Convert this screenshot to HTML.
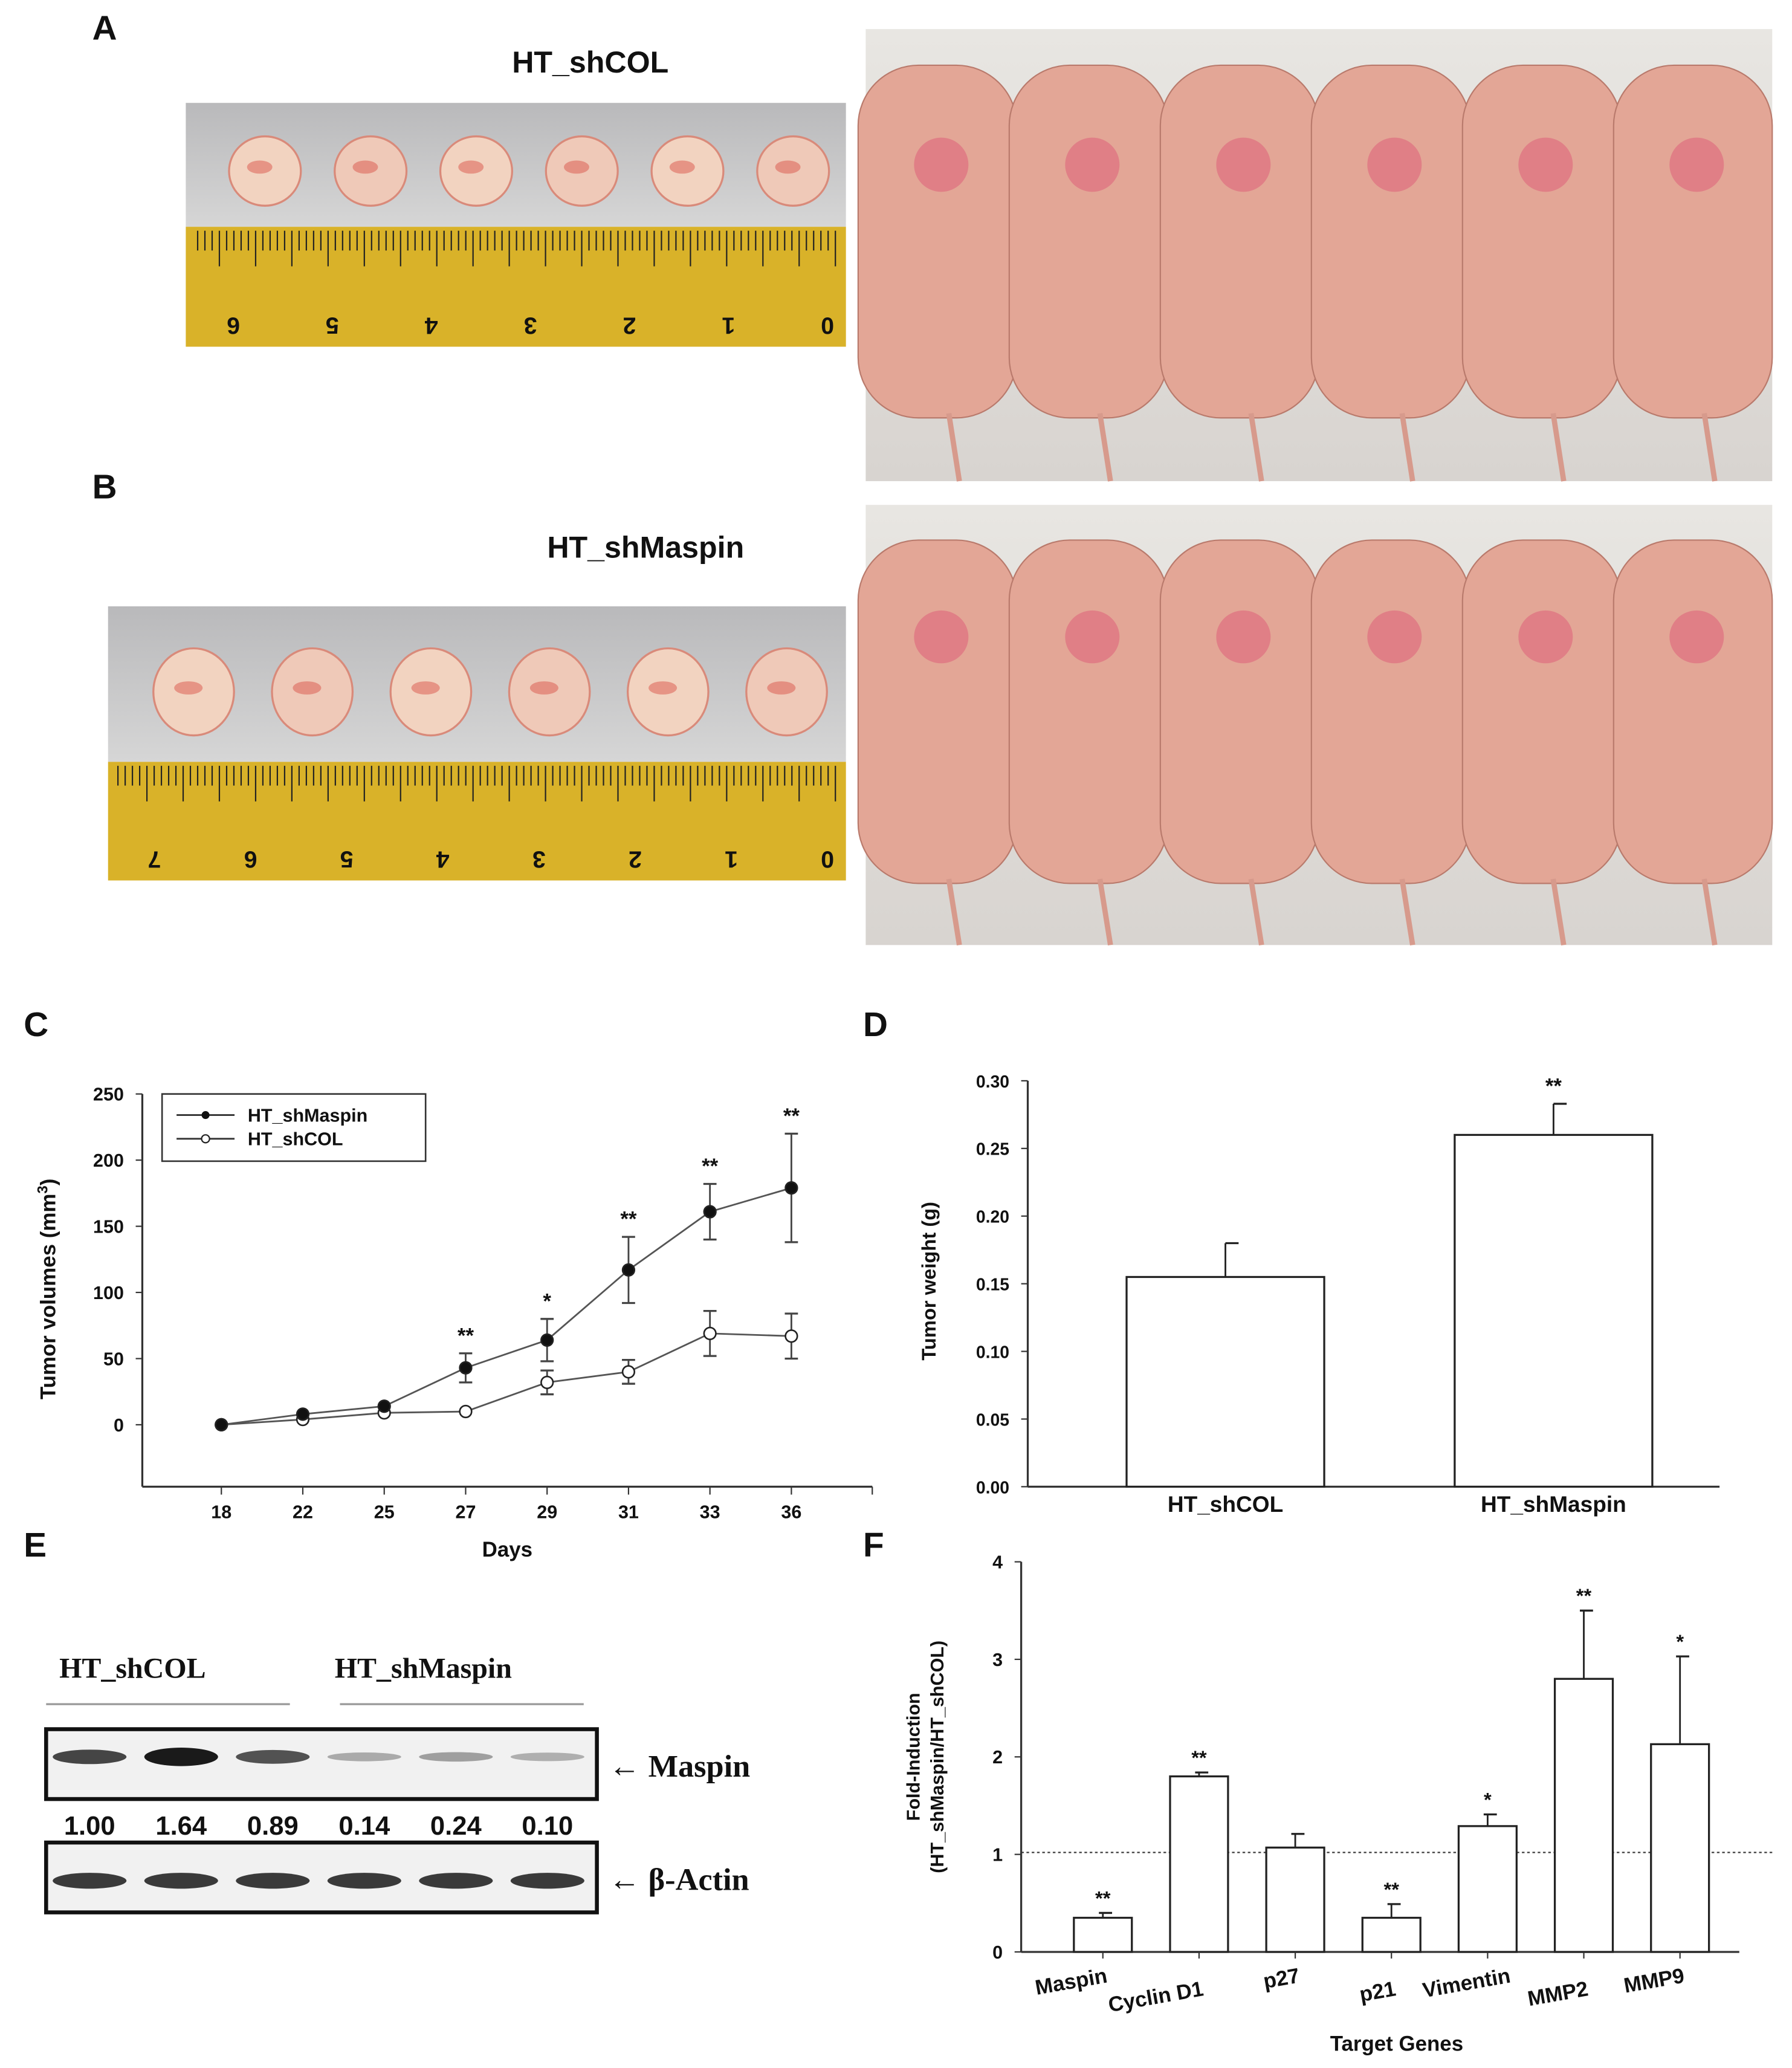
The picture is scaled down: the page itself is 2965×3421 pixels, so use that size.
<!DOCTYPE html>
<html><head><meta charset="utf-8"><style>
html,body{margin:0;padding:0;background:#fff}
svg{display:block}
text{font-family:"Liberation Sans",Arial,sans-serif;font-weight:bold;fill:#111}
.serif{font-family:"Liberation Serif",serif}
</style></head><body>
<svg id="fig" width="2965" height="3421" viewBox="0 0 1360 1569" xmlns="http://www.w3.org/2000/svg">
<defs>
<linearGradient id="gray" x1="0" y1="0" x2="0" y2="1"><stop offset="0" stop-color="#b9b9bb"/><stop offset="1" stop-color="#d6d6d6"/></linearGradient>
<linearGradient id="mice" x1="0" y1="0" x2="0" y2="1"><stop offset="0" stop-color="#e8e6e2"/><stop offset="1" stop-color="#d8d4d0"/></linearGradient>
</defs>
<text x="70" y="30" font-size="26">A</text>
<text x="70" y="378" font-size="26">B</text>
<text x="18" y="786" font-size="26">C</text>
<text x="655" y="786" font-size="26">D</text>
<text x="18" y="1181" font-size="26">E</text>
<text x="655" y="1181" font-size="26">F</text>
<text x="448" y="55" font-size="23" text-anchor="middle">HT_shCOL</text>
<text x="490" y="423" font-size="23" text-anchor="middle">HT_shMaspin</text>
<g id="photos"></g>
<g id="chartC"></g>
<g id="chartD"></g>
<g id="blotE"></g>
<g id="chartF"></g>
</svg>
<script>
const NS="http://www.w3.org/2000/svg";
function mk(parent,tag,attrs,txt){const e=document.createElementNS(NS,tag);for(const k in attrs)e.setAttribute(k,attrs[k]);if(txt!==undefined)e.textContent=txt;parent.appendChild(e);return e;}
// ---------- Photos ----------
const P=document.getElementById('photos');
function tumorPhoto(x,y,w,h,rulerY,n,nums){
  const g=mk(P,'g',{});
  
  
  mk(g,'rect',{x:x,y:y,width:w,height:rulerY-y,fill:'url(#gray)'});
  mk(g,'rect',{x:x,y:rulerY,width:w,height:y+h-rulerY,fill:'#d9b229'});
  const step=(w-20)/n;
  for(let i=0;i<n;i++){
    const cx=x+20+step*(i+0.5), cy=y+(rulerY-y)*0.55;
    mk(g,'ellipse',{cx:cx,cy:cy,rx:step*0.34,ry:(rulerY-y)*0.28,fill:i%2?'#efc9b8':'#f2d3c0',stroke:'#d98a7a','stroke-width':1.5});
    mk(g,'ellipse',{cx:cx-4,cy:cy-3,rx:step*0.12,ry:5,fill:'#d9564a',opacity:0.5});
  }
  const tl=w-12;
  for(let i=0;i<=tl/5.5;i++){const tx=x+w-8-i*5.5;mk(g,'line',{x1:tx,y1:rulerY+3,x2:tx,y2:rulerY+(i%5==0?30:18),stroke:'#222','stroke-width':1});}
  nums.forEach((s,i)=>{const tx=x+w-14-i*((w-20)/(nums.length-0.6));mk(g,'text',{x:tx,y:y+h-10,'font-size':18,'text-anchor':'middle',transform:`rotate(180 ${tx} ${y+h-16})`},s);});
}
tumorPhoto(141,78,501,185,172,6,['0','1','2','3','4','5','6']);
tumorPhoto(82,460,560,208,578,6,['0','1','2','3','4','5','6','7']);
function micePhoto(x,y,w,h){
  const g=mk(P,'g',{});
  
  
  mk(g,'rect',{x:x,y:y,width:w,height:h,fill:'url(#mice)'});
  const n=6,mw=w/n;
  for(let i=0;i<n;i++){
    const mx=x+mw*(i+0.5);
    mk(g,'rect',{x:mx-mw*0.55,y:y+h*0.08,width:mw*1.05,height:h*0.78,rx:mw*0.4,fill:'#e3a696',stroke:'#b97a6c','stroke-width':1});
    mk(g,'ellipse',{cx:mx,cy:y+h*0.3,rx:mw*0.18,ry:h*0.06,fill:'#e07f86'});
    mk(g,'line',{x1:mx+mw*0.05,y1:y+h*0.85,x2:mx+mw*0.12,y2:y+h,stroke:'#d79a8c','stroke-width':4});
  }
}
micePhoto(657,22,688,343);
micePhoto(657,383,688,334);

// ---------- Chart C ----------
const daysC=['18','22','25','27','29','31','33','36'];
const maspinVals=[0,8,14,43,64,117,161,179];
const maspinErr=[0,0,0,11,16,25,21,41];
const colVals=[0,4,9,10,32,40,69,67];
const colErr=[0,0,0,0,9,9,17,17];
const sigC=['','','','**','*','**','**','**'];
const yTicksC=[0,50,100,150,200,250];
(function(){
  const G=document.getElementById('chartC');
  const x0=108,xEnd=662,y0=1081,ppu=1.004,axisY=1128;
  const xs=i=>168+i*61.8, ys=v=>y0-v*ppu;
  mk(G,'line',{x1:x0,y1:ys(250),x2:x0,y2:axisY,stroke:'#333','stroke-width':1.5});
  mk(G,'line',{x1:x0,y1:axisY,x2:xEnd,y2:axisY,stroke:'#333','stroke-width':1.5});
  yTicksC.forEach(v=>{mk(G,'line',{x1:x0-5,y1:ys(v),x2:x0,y2:ys(v),stroke:'#333'});
    const t=mk(G,'text',{x:x0-14,y:ys(v)+5,'font-size':14,'text-anchor':'end'},v);
    });
  daysC.forEach((d,i)=>{mk(G,'line',{x1:xs(i),y1:axisY,x2:xs(i),y2:axisY+6,stroke:'#333'});
    const t=mk(G,'text',{x:xs(i),y:axisY+24,'font-size':14,'text-anchor':'middle'},d);
    });
  mk(G,'line',{x1:xEnd,y1:axisY,x2:xEnd,y2:axisY+6,stroke:'#333'});
  const xt=mk(G,'text',{x:385,y:1181,'font-size':16,'text-anchor':'middle'},'Days');
  
  const yt=mk(G,'text',{x:0,y:0,'font-size':16,'text-anchor':'middle',transform:'translate(42,978) rotate(-90)'},'Tumor volumes (mm');
  mk(yt,'tspan',{'font-size':11,dy:-6},'3');mk(yt,'tspan',{dy:6},')');
  
  function series(vals,errs,fill,name){
    const pts=vals.map((v,i)=>xs(i)+','+ys(v)).join(' ');
    const l=mk(G,'polyline',{points:pts,fill:'none',stroke:'#555','stroke-width':1.3});
    
    vals.forEach((v,i)=>{
      if(errs[i]>0){mk(G,'line',{x1:xs(i),y1:ys(v-errs[i]),x2:xs(i),y2:ys(v+errs[i]),stroke:'#444','stroke-width':1.3});
        [v-errs[i],v+errs[i]].forEach(e=>mk(G,'line',{x1:xs(i)-5,y1:ys(e),x2:xs(i)+5,y2:ys(e),stroke:'#444','stroke-width':1.5}));}
      const c=mk(G,'circle',{cx:xs(i),cy:ys(v),r:4.5,fill:fill,stroke:'#222','stroke-width':1.2});
      
    });
  }
  series(colVals,colErr,'#fff','shcol');
  series(maspinVals,maspinErr,'#111','shmaspin');
  sigC.forEach((s,i)=>{if(s){const t=mk(G,'text',{x:xs(i),y:ys(maspinVals[i]+maspinErr[i])-8,'font-size':16,'text-anchor':'middle'},s);
    }});
  const lg=mk(G,'g',{});
  mk(lg,'rect',{x:123,y:830,width:200,height:51,fill:'#fff',stroke:'#333','stroke-width':1.2});
  mk(lg,'line',{x1:134,y1:846,x2:178,y2:846,stroke:'#333','stroke-width':1.3});
  mk(lg,'circle',{cx:156,cy:846,r:3,fill:'#111'});
  mk(lg,'text',{x:188,y:851,'font-size':14,'font-weight':'normal'},'HT_shMaspin');
  mk(lg,'line',{x1:134,y1:864,x2:178,y2:864,stroke:'#333','stroke-width':1.3});
  mk(lg,'circle',{cx:156,cy:864,r:3,fill:'#fff',stroke:'#222'});
  mk(lg,'text',{x:188,y:869,'font-size':14,'font-weight':'normal'},'HT_shCOL');
})();

// ---------- Chart D ----------
const groupsD=['HT_shCOL','HT_shMaspin'];
const weightVals=[0.155,0.26];
const weightErr=[0.025,0.023];
const sigD=['','**'];
const yTicksD=[0,0.05,0.10,0.15,0.20,0.25,0.30];
(function(){
  const G=document.getElementById('chartD');
  const x0=780,xEnd=1305,y0=1128,ppu=(1128-820)/0.30;
  const ys=v=>y0-v*ppu, xc=i=>930+i*249, bw=150;
  mk(G,'line',{x1:x0,y1:820,x2:x0,y2:y0,stroke:'#333','stroke-width':1.5});
  mk(G,'line',{x1:x0,y1:y0,x2:xEnd,y2:y0,stroke:'#333','stroke-width':1.5});
  yTicksD.forEach(v=>{mk(G,'line',{x1:x0-5,y1:ys(v),x2:x0,y2:ys(v),stroke:'#333'});
    const t=mk(G,'text',{x:x0-14,y:ys(v)+5,'font-size':13,'text-anchor':'end'},v.toFixed(2));
    });
  groupsD.forEach((g,i)=>{
    const b=mk(G,'rect',{x:xc(i)-bw/2,y:ys(weightVals[i]),width:bw,height:y0-ys(weightVals[i]),fill:'#fff',stroke:'#222','stroke-width':1.5});
    
    const top=ys(weightVals[i]+weightErr[i]);
    mk(G,'line',{x1:xc(i),y1:ys(weightVals[i]),x2:xc(i),y2:top,stroke:'#222','stroke-width':1.3});
    mk(G,'line',{x1:xc(i),y1:top,x2:xc(i)+10,y2:top,stroke:'#222','stroke-width':1.5});
    const t=mk(G,'text',{x:xc(i),y:1147,'font-size':17,'text-anchor':'middle'},g);
    
    if(sigD[i]){const s=mk(G,'text',{x:xc(i),y:top-8,'font-size':16,'text-anchor':'middle'},sigD[i]);
      }
  });
  const yt=mk(G,'text',{x:0,y:0,'font-size':15,'text-anchor':'middle',transform:'translate(710,972) rotate(-90)'},'Tumor weight (g)');
  
})();

// ---------- Blot E ----------
const blotLanes=[1.00,1.64,0.89,0.14,0.24,0.10];
(function(){
  const G=document.getElementById('blotE');
  const t1=mk(G,'text',{x:45,y:1273,'font-size':22,'class':'serif'},'HT_shCOL');
  
  const t2=mk(G,'text',{x:254,y:1273,'font-size':22,'class':'serif'},'HT_shMaspin');
  
  mk(G,'line',{x1:35,y1:1293,x2:220,y2:1293,stroke:'#999','stroke-width':1.5});
  mk(G,'line',{x1:258,y1:1293,x2:443,y2:1293,stroke:'#999','stroke-width':1.5});
  [[1312,'Maspin',true],[1398,'\u03B2-Actin',false]].forEach(([y,lab,var_])=>{
    const b=mk(G,'rect',{x:35,y:y,width:418,height:53,fill:'#f1f1f1',stroke:'#111','stroke-width':3});
    
    blotLanes.forEach((v,i)=>{
      const cx=68+i*69.5;
      const op=var_?Math.min(1,0.25+v*0.55):0.85;
      mk(G,'ellipse',{cx:cx,cy:y+(var_?21:29),rx:28,ry:var_?(3+Math.min(v,1.6)*2.5):6,fill:'#1a1a1a',opacity:op});
    });
    const l=mk(G,'text',{x:462,y:y+36,'font-size':24,'class':'serif'},'\u2190 '+lab);
    
  });
  blotLanes.forEach((v,i)=>{const t=mk(G,'text',{x:68+i*69.5,y:1392,'font-size':20,'text-anchor':'middle'},v.toFixed(2));
    });
})();

// ---------- Chart F ----------
const genesF=['Maspin','Cyclin D1','p27','p21','Vimentin','MMP2','MMP9'];
const foldVals=[0.35,1.8,1.07,0.35,1.29,2.8,2.13];
const foldErr=[0.05,0.04,0.14,0.14,0.12,0.7,0.9];
const sigF=['**','**','','**','*','**','*'];
const yTicksF=[0,1,2,3,4];
(function(){
  const G=document.getElementById('chartF');
  const x0=775,xEnd=1320,y0=1481,ppu=74;
  const ys=v=>y0-v*ppu, xc=i=>837+i*73, bw=44;
  mk(G,'line',{x1:x0,y1:ys(4),x2:x0,y2:y0,stroke:'#333','stroke-width':1.5});
  mk(G,'line',{x1:x0,y1:y0,x2:xEnd,y2:y0,stroke:'#333','stroke-width':1.5});
  yTicksF.forEach(v=>{mk(G,'line',{x1:x0-5,y1:ys(v),x2:x0,y2:ys(v),stroke:'#333'});
    const t=mk(G,'text',{x:x0-14,y:ys(v)+5,'font-size':14,'text-anchor':'end'},v);
    });
  const ref=mk(G,'line',{x1:x0,y1:ys(1.02),x2:1345,y2:ys(1.02),stroke:'#333','stroke-width':1,'stroke-dasharray':'2,2'});
  
  genesF.forEach((g,i)=>{
    const b=mk(G,'rect',{x:xc(i)-bw/2,y:ys(foldVals[i]),width:bw,height:y0-ys(foldVals[i]),fill:'#fff',stroke:'#222','stroke-width':1.5});
    
    const top=ys(foldVals[i]+foldErr[i]);
    mk(G,'line',{x1:xc(i),y1:ys(foldVals[i]),x2:xc(i),y2:top,stroke:'#222','stroke-width':1.3});
    mk(G,'line',{x1:xc(i)-3,y1:top,x2:xc(i)+7,y2:top,stroke:'#222','stroke-width':1.5});
    mk(G,'line',{x1:xc(i),y1:y0,x2:xc(i),y2:y0+5,stroke:'#333'});
    if(sigF[i]){const s=mk(G,'text',{x:xc(i),y:top-6,'font-size':15,'text-anchor':'middle'},sigF[i]);
      }
    const lx=xc(i)+(i==4?18:4), ly=(i%2?1514:1504);
    const t=mk(G,'text',{x:lx,y:ly,'font-size':16,'text-anchor':'end',transform:`rotate(-10 ${lx} ${ly})`},g);
    
  });
  const xt=mk(G,'text',{x:1060,y:1556,'font-size':16,'text-anchor':'middle'},'Target Genes');
  
  const y1=mk(G,'text',{x:0,y:0,'font-size':14,'text-anchor':'middle',transform:'translate(698,1333) rotate(-90)'},'Fold-Induction');
  
  const y2=mk(G,'text',{x:0,y:0,'font-size':14,'text-anchor':'middle',transform:'translate(716,1333) rotate(-90)'},'(HT_shMaspin/HT_shCOL)');
  
})();
</script>
</body></html>
